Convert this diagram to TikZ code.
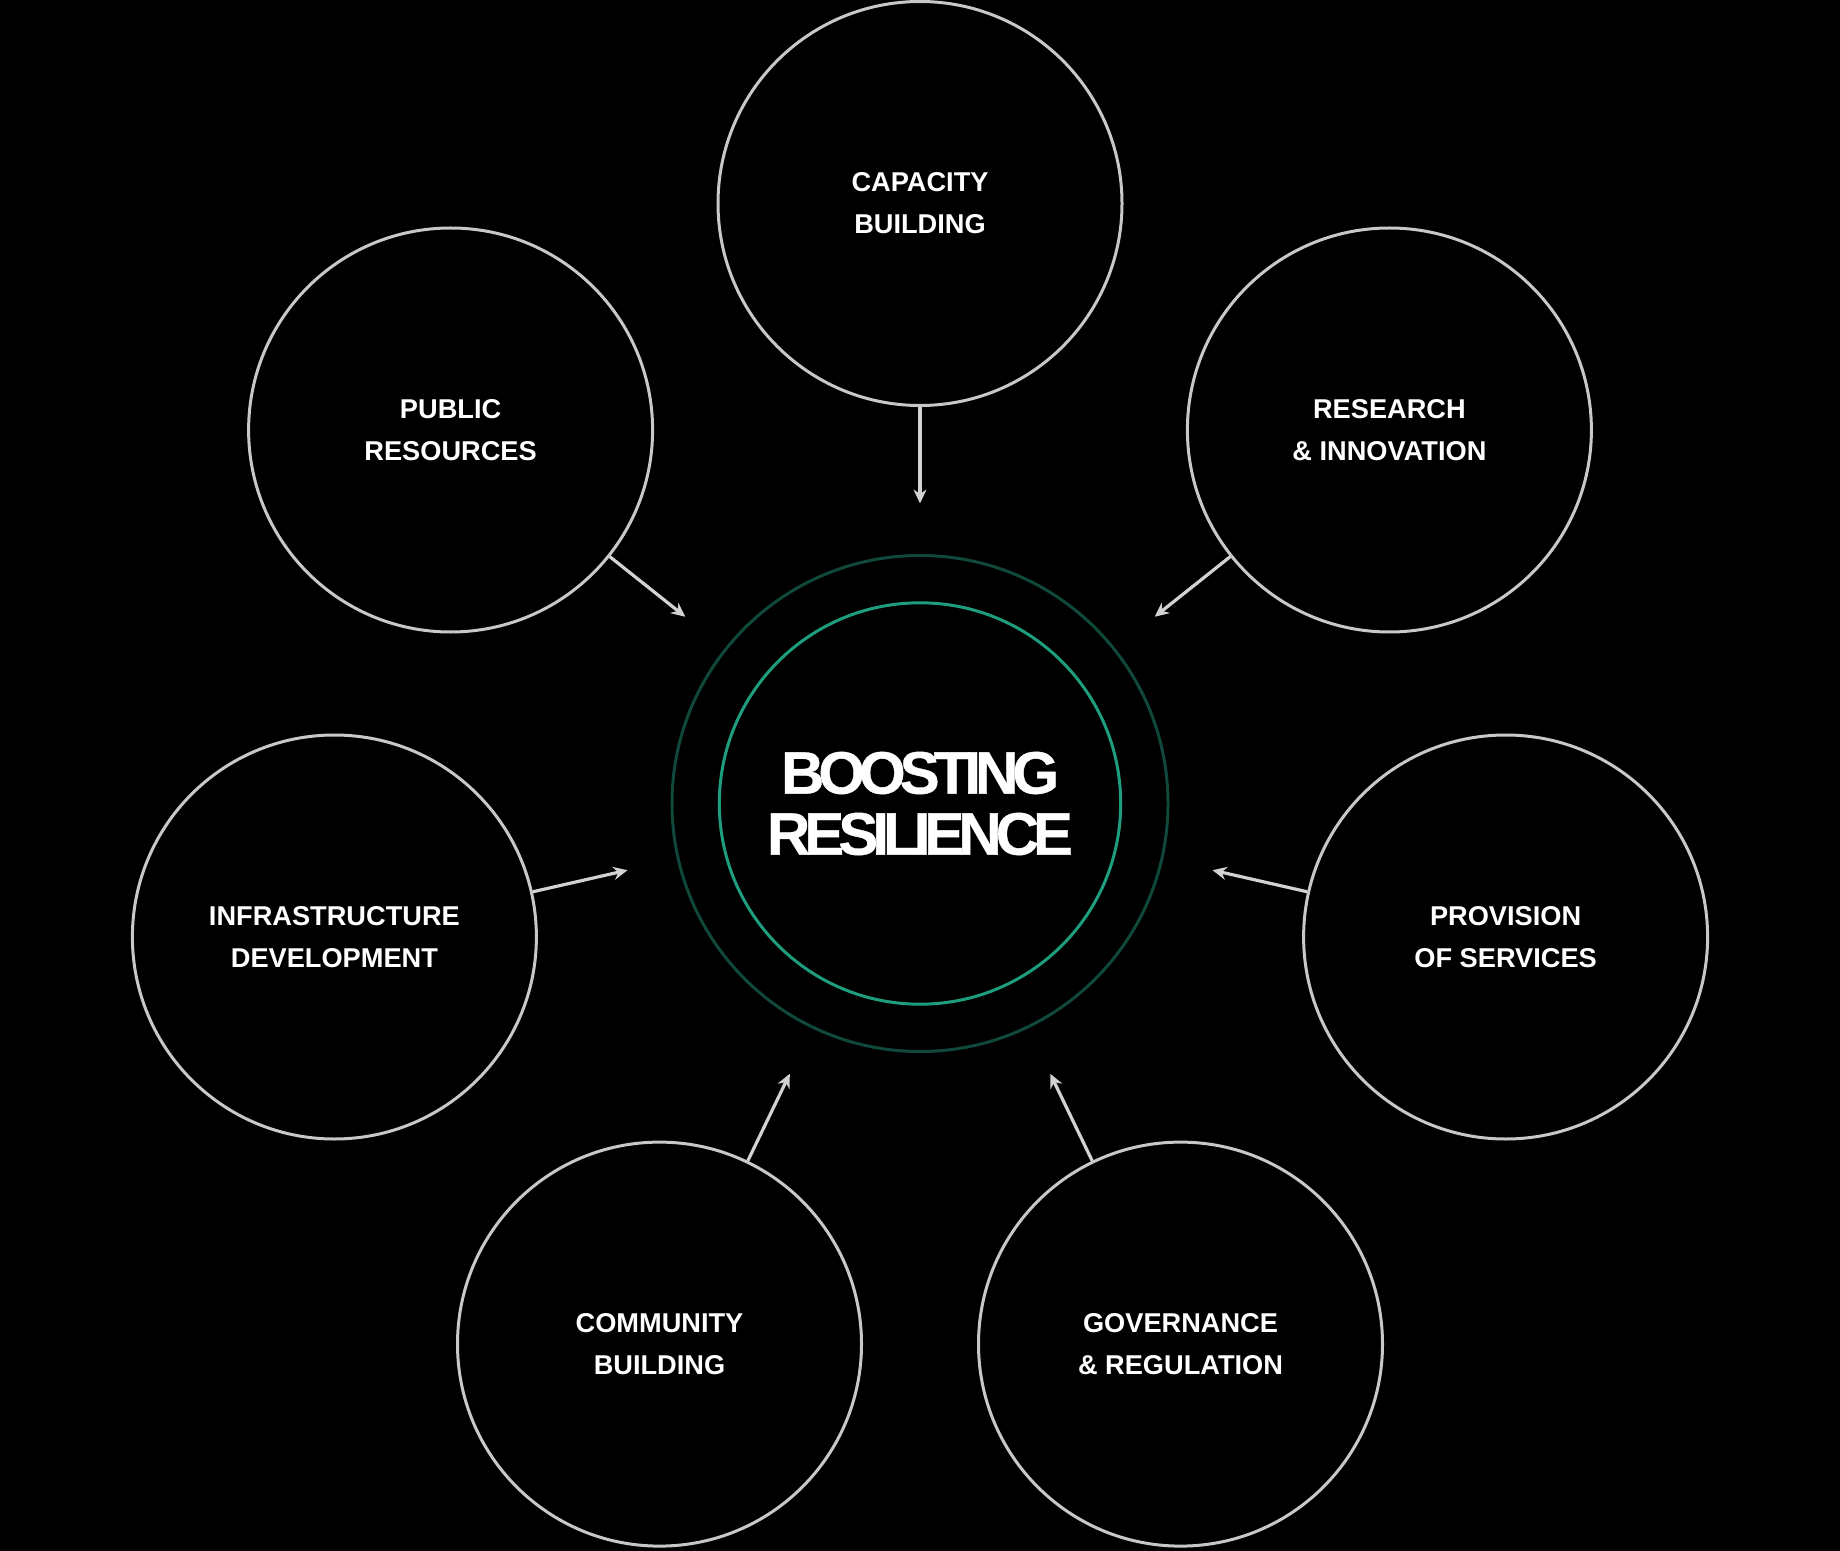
\documentclass[tikz,border=0pt]{standalone}
\usepackage{fontspec}
\setmainfont{Liberation Sans}
\newfontfamily\corefont[LetterSpace=-10,FakeBold=0.6]{Liberation Sans}
\usetikzlibrary{arrows.meta, calc}
\definecolor{ringgray}{HTML}{C8C8C8}
\definecolor{arrowgray}{HTML}{D2D2D2}
\definecolor{coregreen}{HTML}{1E9E7E}
\definecolor{halogreen}{HTML}{10493B}
\tikzset{>={Stealth[length=7pt,width=6.5pt]}}
\tikzset{
  theme/.style={draw=ringgray, line width=1.5pt, circle, minimum size=202pt, inner sep=0pt,
    text=white, align=center, font=\fontsize{13.6}{21}\selectfont\bfseries},
  core/.style={draw=coregreen, line width=1.5pt, circle, minimum size=200.7pt, inner sep=0pt,
    text=white, align=center, font=\corefont\fontsize{30}{30.5}\selectfont\bfseries},
  halo/.style={draw=halogreen, line width=1.5pt, circle, minimum size=248pt},
  link/.style={->, draw=arrowgray, fill=arrowgray, line width=1.6pt}
}
\begin{document}
\begin{tikzpicture}[x=0.5pt,y=-0.5pt]
        \fill[black] (0,0) rectangle (1840,1550);
        \node[halo] (halo) at (920,803) {};
        \node[core] (core) at (920,803) {BOOSTING\\RESILIENCE};

        \node[theme] (cap) at (920,203) {CAPACITY\\BUILDING};
        \node[theme] (pub) at (450.6,429.5) {PUBLIC\\RESOURCES};
        \node[theme] (res) at (1389.4,429.5) {RESEARCH\\\& INNOVATION};
        \node[theme] (inf) at (334.4,936.5) {INFRASTRUCTURE\\DEVELOPMENT};
        \node[theme] (pro) at (1505.6,936.5) {PROVISION\\OF SERVICES};
        \node[theme] (com) at (659.5,1343.6) {COMMUNITY\\BUILDING};
        \node[theme] (gov) at (1180.5,1343.6) {GOVERNANCE\\\& REGULATION};

        \coordinate (capend) at ($(core)!150pt!(cap)$);
        \coordinate (pubend) at ($(core)!150pt!(pub)$);
        \coordinate (resend) at ($(core)!150pt!(res)$);
        \coordinate (infend) at ($(core)!150pt!(inf)$);
        \coordinate (proend) at ($(core)!150pt!(pro)$);
        \coordinate (comend) at ($(core)!150pt!(com)$);
        \coordinate (govend) at ($(core)!150pt!(gov)$);

        \draw[link] (cap) -- (capend);
        \draw[link] (pub) -- (pubend);
        \draw[link] (res) -- (resend);
        \draw[link] (inf) -- (infend);
        \draw[link] (pro) -- (proend);
        \draw[link] (com) -- (comend);
        \draw[link] (gov) -- (govend);
\end{tikzpicture}
\end{document}
